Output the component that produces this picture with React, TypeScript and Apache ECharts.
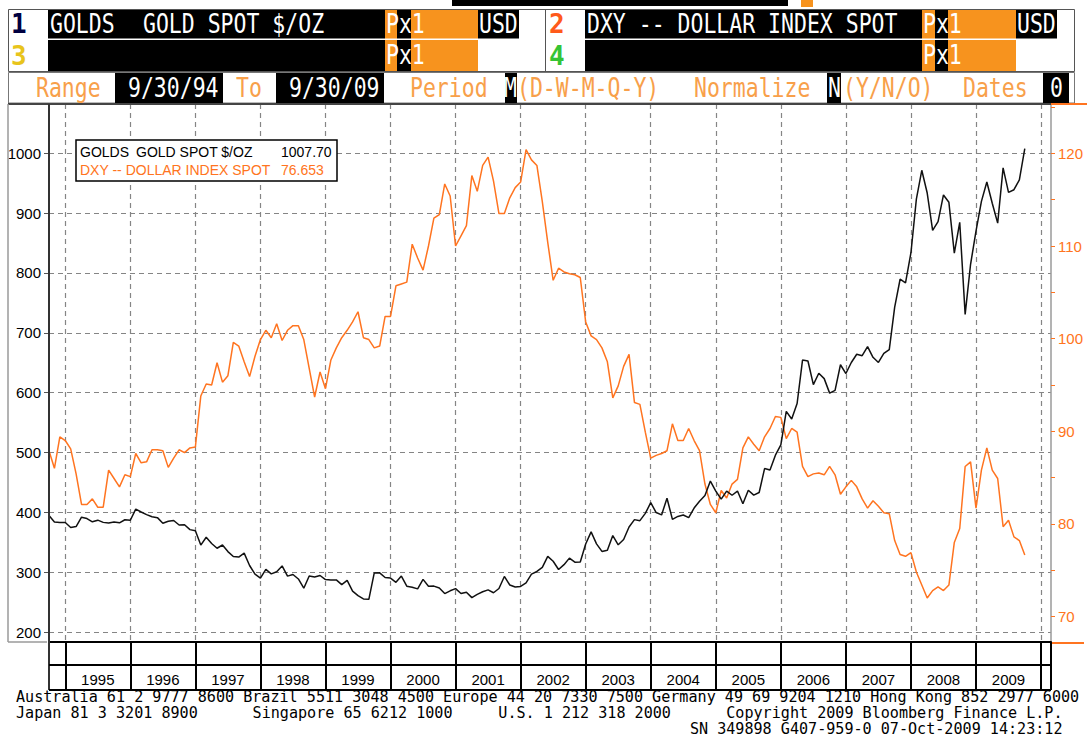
import React, { useEffect, useRef } from "react";
import * as echarts from "echarts";

// ---- data (monthly, 9/30/94 .. 9/30/09) ----
const START = 1994.75; // Sep 30 1994 as a fractional year
const goldSpot = [
  394.9, 383.9, 383.1, 383.3,
  374.9, 376.4, 392.0, 389.8, 384.3, 387.1, 383.4, 382.4, 384.0, 382.7, 387.8, 387.0,
  405.6, 400.7, 396.4, 392.8, 391.3, 382.0, 385.3, 386.5, 379.0, 379.5, 371.3, 369.3,
  345.5, 358.6, 348.2, 340.2, 345.6, 334.6, 326.4, 325.4, 332.1, 311.4, 296.8, 290.2,
  304.9, 297.4, 301.0, 310.7, 293.6, 296.3, 288.9, 273.4, 293.9, 292.3, 294.7, 287.8,
  287.1, 287.3, 279.5, 286.6, 268.6, 261.0, 255.6, 254.8, 299.0, 299.1, 291.4, 290.3,
  283.3, 293.7, 276.8, 275.1, 272.3, 288.2, 276.8, 277.0, 273.7, 264.5, 269.1, 272.7,
  264.5, 266.7, 257.7, 263.2, 267.5, 270.6, 265.9, 273.0, 293.1, 278.8, 275.5, 276.5,
  282.3, 296.9, 301.4, 308.2, 326.6, 318.5, 304.7, 312.8, 323.7, 316.9, 317.1, 347.2,
  367.5, 347.5, 334.9, 336.8, 361.4, 346.0, 354.8, 375.6, 388.0, 386.3, 398.4, 416.3,
  399.8, 395.9, 423.7, 388.5, 393.3, 395.8, 391.4, 407.3, 418.7, 428.4, 452.4, 435.6,
  422.2, 435.5, 428.7, 435.7, 414.5, 437.1, 429.0, 433.3, 473.3, 470.8, 495.7, 513.0,
  568.8, 556.0, 582.0, 654.5, 653.0, 613.5, 632.5, 623.5, 599.3, 603.8, 646.7, 632.0,
  650.5, 664.2, 661.8, 677.0, 659.1, 650.5, 665.5, 672.0, 743.0, 789.5, 783.5, 833.8,
  923.3, 971.5, 933.5, 871.0, 885.8, 930.3, 918.0, 833.0, 884.5, 730.8, 814.5, 869.8,
  919.5, 952.0, 916.5, 883.3, 975.5, 934.5, 939.0, 955.5, 1007.7,
];
const dollarIndex = [
  87.9, 86.0, 89.4, 89.0,
  88.1, 85.4, 82.1, 82.1, 82.7, 81.8, 81.8, 85.8, 84.9, 84.0, 85.3, 85.1,
  87.6, 86.6, 86.7, 88.0, 88.0, 87.9, 86.1, 87.1, 88.0, 87.7, 88.2, 88.3,
  93.8, 95.1, 95.0, 97.4, 95.3, 96.0, 99.6, 99.2, 97.5, 95.9, 98.1, 99.9,
  100.9, 100.1, 101.6, 99.8, 100.9, 101.4, 101.4, 99.9, 96.8, 93.7, 96.4, 94.6,
  97.7, 99.0, 100.1, 100.9, 101.8, 102.9, 100.1, 99.9, 99.0, 99.2, 102.4, 102.4,
  105.7, 105.9, 106.1, 110.2, 108.7, 107.4, 110.0, 113.0, 113.4, 116.7, 115.4, 110.0,
  111.1, 112.2, 117.6, 115.9, 118.7, 119.6, 117.0, 113.5, 113.5, 115.2, 116.3, 116.9,
  120.4, 119.3, 118.7, 114.8, 110.4, 106.3, 107.6, 107.2, 107.0, 106.9, 106.6, 101.8,
  100.3, 99.9, 99.0, 97.5, 93.6, 94.9, 97.0, 98.3, 93.1, 92.9, 89.9, 87.1,
  87.4, 87.6, 87.9, 90.8, 89.0, 89.0, 90.3, 89.0, 87.9, 84.3, 82.1, 81.2,
  83.6, 82.8, 84.3, 84.8, 88.2, 89.4, 88.6, 87.9, 89.4, 90.3, 91.6, 91.5,
  89.2, 90.3, 89.9, 86.2, 85.1, 85.4, 85.5, 85.3, 86.2, 85.3, 83.2, 84.0,
  84.7, 84.0, 82.7, 81.7, 82.5, 81.9, 81.2, 81.1, 78.2, 76.7, 76.5, 76.9,
  74.8, 73.4, 72.0, 72.8, 73.2, 72.8, 73.4, 78.0, 79.5, 86.2, 86.7, 81.7,
  85.8, 88.2, 85.8, 84.9, 79.7, 80.4, 78.6, 78.2, 76.653,
];
const yearLabels = ["1995", "1996", "1997", "1998", "1999", "2000", "2001", "2002", "2003", "2004", "2005", "2006", "2007", "2008", "2009"];
const yearBounds = [1995, 1996, 1997, 1998, 1999, 2000, 2001, 2002, 2003, 2004, 2005, 2006, 2007, 2008, 2009, 2010];
const goldTicks = [200, 300, 400, 500, 600, 700, 800, 900, 1000];
const dxyTicks = [70, 80, 90, 100, 110, 120];
const dxyMinorTicks = [70, 75, 80, 85, 90, 95, 100, 105, 110, 115, 120, 125];

const ORANGE_CELL = "#f7931e";
const ORANGE_TXT = "#f8a04a";
const ORANGE_LINE = "#ff7420";
const MONO = "'DejaVu Sans Mono', monospace";
const SANS = "'Liberation Sans', Arial, sans-serif";

function buildGraphic() {
  const G: any[] = [];
  const R = (x: number, y: number, w: number, h: number, fill: string, z = 1) =>
    G.push({ type: "rect", silent: true, z, shape: { x, y, width: w, height: h }, style: { fill } });
  const L = (x1: number, y1: number, x2: number, y2: number, stroke: string, lw = 1, z = 1) =>
    G.push({ type: "line", silent: true, z, shape: { x1, y1, x2, y2 }, style: { stroke, lineWidth: lw } });
  const HT = (x: number, y: number, text: string, fill: string, font = `21.5px ${MONO}`, sy = 1.22, align = "left") =>
    G.push({
      type: "text", silent: true, z: 5, x, y, scaleY: sy,
      style: { text, fill, font, textAlign: align, textVerticalAlign: "middle" },
    });

  // top strip (cut-off screen line)
  R(452, 0, 336, 6, "#000");
  R(801, 0, 12, 7, ORANGE_CELL);

  // header frame rows 1-2
  G.push({ type: "rect", silent: true, z: 0, shape: { x: 8.5, y: 9.5, width: 1066, height: 62 }, style: { fill: "#fff", stroke: "#555", lineWidth: 1 } });
  L(545.5, 9, 545.5, 72, "#555");
  // row 1 left
  R(48, 10, 337, 28.5, "#000"); R(385, 10, 12, 28.5, ORANGE_CELL); R(397, 10, 14, 28.5, "#000");
  R(411, 10, 67, 28.5, ORANGE_CELL); R(478, 10, 41, 28.5, "#000");
  // row 2 left
  R(48, 40, 337, 31, "#000"); R(385, 40, 12, 31, ORANGE_CELL); R(397, 40, 14, 31, "#000"); R(411, 40, 67, 31, ORANGE_CELL);
  // row 1 right
  R(585, 10, 337, 28.5, "#000"); R(922, 10, 13, 28.5, ORANGE_CELL); R(935, 10, 13, 28.5, "#000");
  R(948, 10, 68, 28.5, ORANGE_CELL); R(1016, 10, 41, 28.5, "#000");
  // row 2 right
  R(585, 40, 337, 31, "#000"); R(922, 40, 13, 31, ORANGE_CELL); R(935, 40, 13, 31, "#000"); R(948, 40, 68, 31, ORANGE_CELL);

  const DIG = `bold 26px ${MONO}`;
  HT(11, 24, "1", "#000040", DIG, 1.0);
  HT(50, 24, "GOLDS", "#fff");
  HT(143, 24, "GOLD SPOT $/OZ", "#fff");
  HT(386, 24, "Px1", "#fff");
  HT(479, 24, "USD", "#fff");
  HT(11, 55.5, "3", "#e8c41c", DIG, 1.0);
  HT(386, 55.5, "Px1", "#fff");
  HT(549, 24, "2", "#ff5a1a", DIG, 1.0);
  HT(587, 24, "DXY -- DOLLAR INDEX SPOT", "#fff");
  HT(923, 24, "Px1", "#fff");
  HT(1017, 24, "USD", "#fff");
  HT(549, 55.5, "4", "#35c435", DIG, 1.0);
  HT(923, 55.5, "Px1", "#fff");

  // row 3
  G.push({ type: "rect", silent: true, z: 0, shape: { x: 8.5, y: 72.5, width: 1066, height: 30.5 }, style: { fill: "#fff", stroke: "#777", lineWidth: 1 } });
  R(115, 73, 108, 30, "#000"); R(276, 73, 108, 30, "#000"); R(505, 73, 12, 30, "#000");
  R(827, 73, 14, 30, "#000"); R(1043, 73, 26, 30, "#000");
  HT(36, 88, "Range", ORANGE_TXT);
  HT(128, 88, "9/30/94", "#fff");
  HT(236, 88, "To", ORANGE_TXT);
  HT(289, 88, "9/30/09", "#fff");
  HT(410, 88, "Period", ORANGE_TXT);
  HT(504, 88, "M", "#fff");
  HT(517, 88, "(D-W-M-Q-Y)", ORANGE_TXT);
  HT(694, 88, "Normalize", ORANGE_TXT);
  HT(828, 88, "N", "#fff");
  HT(843, 88, "(Y/N/O)", ORANGE_TXT);
  HT(963, 88, "Dates", ORANGE_TXT);
  HT(1050, 88, "0", "#fff");

  // chart frame
  L(8, 104, 1051, 104, "#444", 2, 20);
  L(1051, 104, 1087, 104, ORANGE_LINE, 2, 20);
  L(1051, 643, 1084, 643, ORANGE_LINE, 2, 20);
  L(8, 104, 8, 642, "#9a9a9a", 1.5, 20);
  L(8, 642, 47, 642, "#9a9a9a", 1.5, 20);
  L(49, 104, 49, 690, "#333", 2, 20);
  L(49, 665, 1051, 665, "#000", 2, 20);
  L(49, 690, 1051, 690, "#000", 2, 20);
  L(1051, 642, 1051, 690, "#000", 2, 20);

  // legend box
  G.push({ type: "rect", silent: true, z: 50, shape: { x: 76, y: 140, width: 261, height: 41 }, style: { fill: "#fff", stroke: "#000", lineWidth: 1.5 } });
  const LF = `14px ${SANS}`;
  const LT = (x: number, y: number, text: string, fill: string) =>
    G.push({ type: "text", silent: true, z: 51, x, y, style: { text, fill, font: LF, textAlign: "left", textVerticalAlign: "middle" } });
  LT(80, 152, "GOLDS", "#000");
  LT(136, 152, "GOLD SPOT $/OZ", "#000");
  LT(281, 152, goldSpot[goldSpot.length - 1].toFixed(2), "#000");
  LT(80, 170, "DXY -- DOLLAR INDEX SPOT", ORANGE_LINE);
  LT(281, 170, dollarIndex[dollarIndex.length - 1].toFixed(3), ORANGE_LINE);

  // footer
  const FF = `15.1px ${MONO}`;
  const FT = (x: number, y: number, text: string, align = "left") =>
    G.push({ type: "text", silent: true, z: 5, x, y, style: { text, fill: "#000", font: FF, textAlign: align, textVerticalAlign: "middle" } });
  const CW = 9.1;
  FT(16, 697, "Australia 61 2 9777 8600 Brazil 5511 3048 4500 Europe 44 20 7330 7500 Germany 49 69 9204 1210 Hong Kong 852 2977 6000");
  FT(16, 713, "Japan 81 3 3201 8900");
  FT(16 + 26 * CW, 713, "Singapore 65 6212 1000");
  FT(16 + 53 * CW, 713, "U.S. 1 212 318 2000");
  FT(16 + 115 * CW, 713, "Copyright 2009 Bloomberg Finance L.P.", "right");
  FT(16 + 115 * CW, 729, "SN 349898 G407-959-0 07-Oct-2009 14:23:12", "right");
  return G;
}

export default function App() {
  const ref = useRef<HTMLDivElement>(null);
  useEffect(() => {
    const el = ref.current!;
    const chart = echarts.init(el, undefined, { renderer: "svg", width: 1087, height: 738 });
    const monthT = (i: number) => START + i / 12;
    const grid = { left: 49, top: 104, width: 1002, height: 538, outerBoundsMode: "none", containLabel: false };
    const dashed = { type: [5, 4], color: "#858585", width: 1.2 };
    const option: any = {
      animation: false,
      backgroundColor: "#fff",
      grid,
      xAxis: {
        type: "value",
        min: 1994.75,
        max: 2010.153,
        axisLine: { show: true, onZero: false, lineStyle: { color: "#000", width: 2 } },
        axisTick: { show: true, customValues: yearBounds, inside: false, length: 48, lineStyle: { color: "#000", width: 2 } },
        axisLabel: {
          show: true,
          customValues: yearLabels.map((y) => Number(y) + 0.5),
          formatter: (v: number) => yearLabels[Math.floor(v) - 1995] ?? "",
          margin: 30,
          color: "#000",
          fontSize: 15,
          fontFamily: SANS,
        },
        splitLine: { show: true, lineStyle: dashed },
      },
      yAxis: [
        {
          type: "value",
          position: "left",
          min: 183.6,
          max: 1082.2,
          axisLine: { show: true, onZero: false, lineStyle: { color: "#333", width: 2 } },
          axisTick: { show: true, customValues: goldTicks, length: 5, lineStyle: { color: "#555" } },
          axisLabel: {
            show: true,
            customValues: goldTicks,
            formatter: (v: number) => String(v),
            margin: 8,
            color: "#000",
            fontSize: 15,
            fontFamily: SANS,
          },
          splitLine: { show: true, lineStyle: dashed },
        },
        {
          type: "value",
          position: "right",
          min: 67.25,
          max: 125.33,
          axisLine: { show: true, onZero: false, lineStyle: { color: "#9a9a9a", width: 1.5 } },
          axisTick: { show: true, customValues: dxyMinorTicks, length: 4, lineStyle: { color: ORANGE_LINE } },
          axisLabel: {
            show: true,
            customValues: dxyTicks,
            formatter: (v: number) => String(v),
            margin: 7,
            color: ORANGE_LINE,
            fontSize: 15,
            fontFamily: SANS,
          },
          splitLine: { show: false },
        },
      ],
      series: [
        {
          name: "DXY -- DOLLAR INDEX SPOT",
          type: "line",
          yAxisIndex: 1,
          showSymbol: false,
          symbol: "none",
          lineStyle: { color: ORANGE_LINE, width: 1.5 },
          data: dollarIndex.map((v, i) => [monthT(i), v]),
          z: 3,
        },
        {
          name: "GOLDS GOLD SPOT $/OZ",
          type: "line",
          yAxisIndex: 0,
          showSymbol: false,
          symbol: "none",
          lineStyle: { color: "#111", width: 1.5 },
          data: goldSpot.map((v, i) => [monthT(i), v]),
          z: 4,
        },
      ],
      graphic: { elements: buildGraphic() },
    };
    chart.setOption(option);
    return () => chart.dispose();
  }, []);
  return (
    <div
      ref={ref}
      style={{ position: "fixed", left: 0, top: 0, width: 1087, height: 738, background: "#fff" }}
    />
  );
}
